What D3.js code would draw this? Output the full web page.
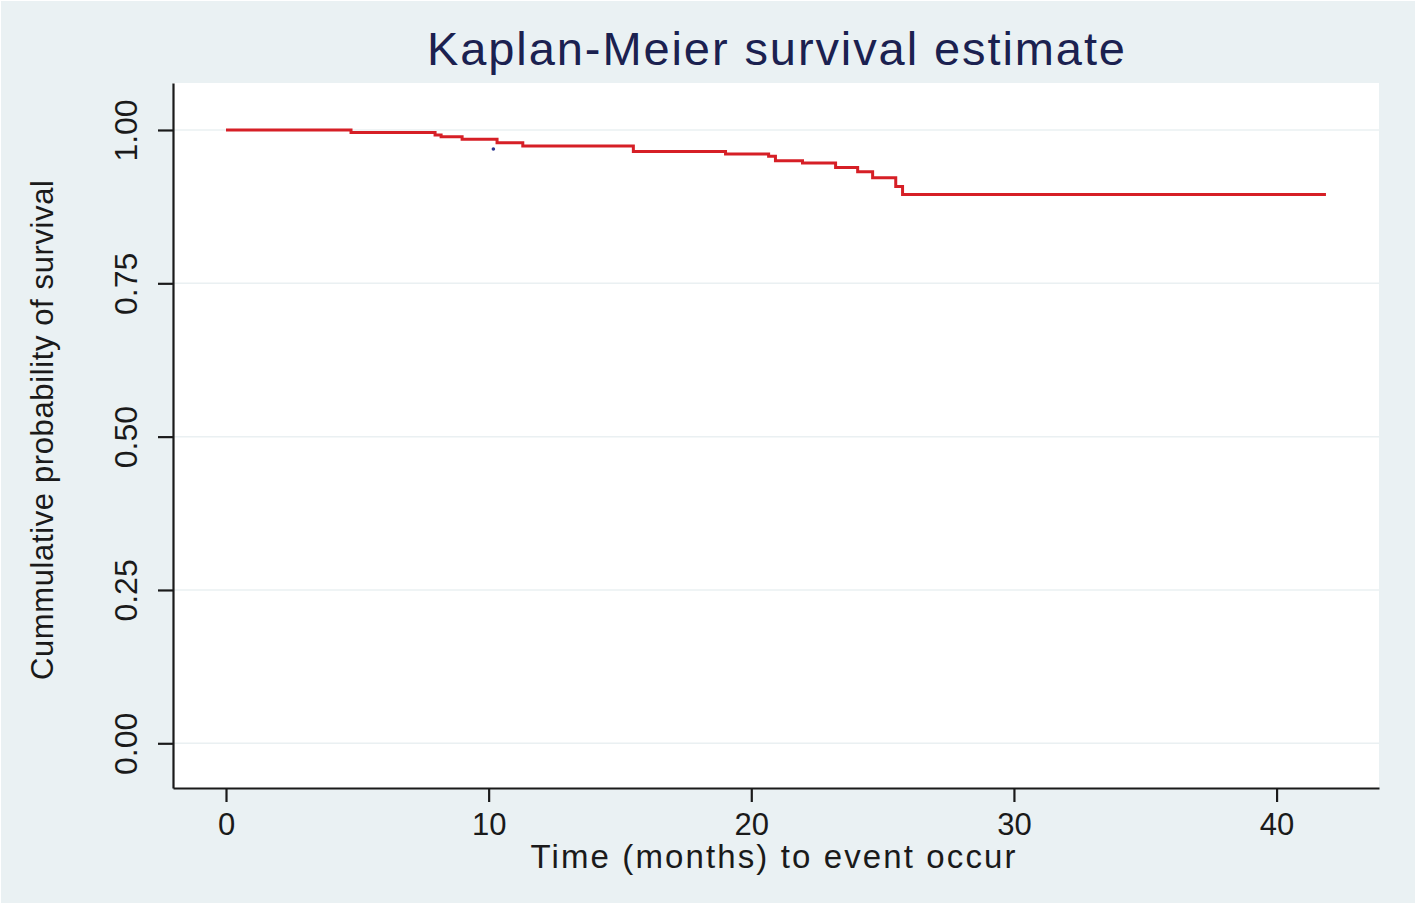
<!DOCTYPE html>
<html>
<head>
<meta charset="utf-8">
<script src="https://cdn.jsdelivr.net/npm/d3@7"></script>
<style>
  html, body { margin: 0; padding: 0; background: #fff; }
  svg { display: block; font-family: "Liberation Sans", Arial, sans-serif; }
</style>
</head>
<body>
<div id="chart"></div>
<script>
// Kaplan-Meier survival estimate (Stata style)

// step times (months) and survival after each step
const times = [0, 4.76, 7.96, 8.19, 8.99, 10.32, 11.3, 15.51, 19.02, 20.66, 20.92, 21.95, 23.21, 24.05, 24.62, 25.50, 25.76, 41.88];
const survival = [1.000, 0.996, 0.992, 0.989, 0.985, 0.979, 0.974, 0.965, 0.961, 0.957, 0.950, 0.946, 0.939, 0.932, 0.922, 0.908, 0.895, 0.895];

// odd blue mark on the curve
const markTimes = [10.18];
const markSurv = [0.969];

const xTicks = [0, 10, 20, 30, 40];
const yTicks = [0, 0.25, 0.5, 0.75, 1];

const title = 'Kaplan-Meier survival estimate';
const xTitle = 'Time (months) to event occur';
const yTitle = 'Cummulative probability of survival';

const width = 1416;
const height = 906;
const plot = {left: 173, right: 1379, top: 83, bottom: 788};

const svg = d3.select('#chart')
  .append('svg')
  .attr('width', width)
  .attr('height', height);

// graph region background
svg.append('rect')
  .attr('x', 1).attr('y', 1)
  .attr('width', 1414).attr('height', 902)
  .attr('fill', '#eaf1f3');

// plot region
svg.append('rect')
  .attr('x', plot.left).attr('y', plot.top)
  .attr('width', plot.right - plot.left)
  .attr('height', plot.bottom - plot.top)
  .attr('fill', '#ffffff');

const x = d3.scaleLinear()
  .domain([-2.018, 43.90])
  .range([plot.left, plot.right]);

const y = d3.scaleLinear()
  .domain([-0.0729, 1.0766])
  .range([plot.bottom, plot.top]);

// gridlines
svg.append('g')
  .selectAll('line')
  .data(yTicks)
  .enter()
  .append('line')
  .attr('x1', plot.left)
  .attr('x2', plot.right)
  .attr('y1', d => y(d))
  .attr('y2', d => y(d))
  .attr('stroke', '#eaf0f2')
  .attr('stroke-width', 1.5);

// survival curve
const pts = times.map((t, i) => [t, survival[i]]);
const line = d3.line()
  .x(d => x(d[0]))
  .y(d => y(d[1]))
  .curve(d3.curveStepAfter);

svg.append('path')
  .datum(pts)
  .attr('d', line)
  .attr('fill', 'none')
  .attr('stroke', '#d61f26')
  .attr('stroke-width', 3);

svg.append('g')
  .selectAll('circle')
  .data(markTimes.map((t, i) => [t, markSurv[i]]))
  .enter()
  .append('circle')
  .attr('cx', d => x(d[0]))
  .attr('cy', d => y(d[1]))
  .attr('r', 1.8)
  .attr('fill', '#2a3590');

// y axis
const yAxis = svg.append('g')
  .attr('transform', `translate(${plot.left},0)`)
  .call(d3.axisLeft(y)
    .tickValues(yTicks)
    .tickFormat(d3.format('.2f'))
    .tickSize(15)
    .tickSizeOuter(0));

yAxis.select('.domain').attr('stroke', '#1a1a1a').attr('stroke-width', 2.2);
yAxis.selectAll('.tick line').attr('stroke', '#1a1a1a').attr('stroke-width', 2.2);
yAxis.selectAll('.tick text')
  .attr('x', null).attr('dy', null)
  .attr('transform', 'translate(-36,0) rotate(-90)')
  .attr('text-anchor', 'middle')
  .attr('fill', '#1a1a1a')
  .style('font-size', '32px')
  .style('font-family', '"Liberation Sans", Arial, sans-serif');

// x axis
const xAxis = svg.append('g')
  .attr('transform', `translate(0,${plot.bottom})`)
  .call(d3.axisBottom(x)
    .tickValues(xTicks)
    .tickFormat(d3.format('d'))
    .tickSize(14)
    .tickSizeOuter(0));

xAxis.select('.domain').attr('stroke', '#1a1a1a').attr('stroke-width', 2.2);
xAxis.selectAll('.tick line').attr('stroke', '#1a1a1a').attr('stroke-width', 2.2);
xAxis.selectAll('.tick text')
  .attr('y', 47).attr('dy', null)
  .attr('fill', '#1a1a1a')
  .style('font-size', '31px')
  .style('font-family', '"Liberation Sans", Arial, sans-serif');

// titles
svg.append('text')
  .attr('x', (plot.left + plot.right) / 2)
  .attr('y', 65)
  .attr('text-anchor', 'middle')
  .attr('fill', '#1b2150')
  .attr('textLength', 698)
  .attr('lengthAdjust', 'spacing')
  .style('font-size', '47px')
  .text(title);

svg.append('text')
  .attr('x', 773)
  .attr('y', 868)
  .attr('text-anchor', 'middle')
  .attr('fill', '#1a1a1a')
  .attr('textLength', 485)
  .attr('lengthAdjust', 'spacing')
  .style('font-size', '33px')
  .text(xTitle);

svg.append('text')
  .attr('transform', `translate(53,430) rotate(-90)`)
  .attr('text-anchor', 'middle')
  .attr('fill', '#1a1a1a')
  .attr('textLength', 500)
  .attr('lengthAdjust', 'spacing')
  .style('font-size', '31px')
  .text(yTitle);
</script>
</body>
</html>
